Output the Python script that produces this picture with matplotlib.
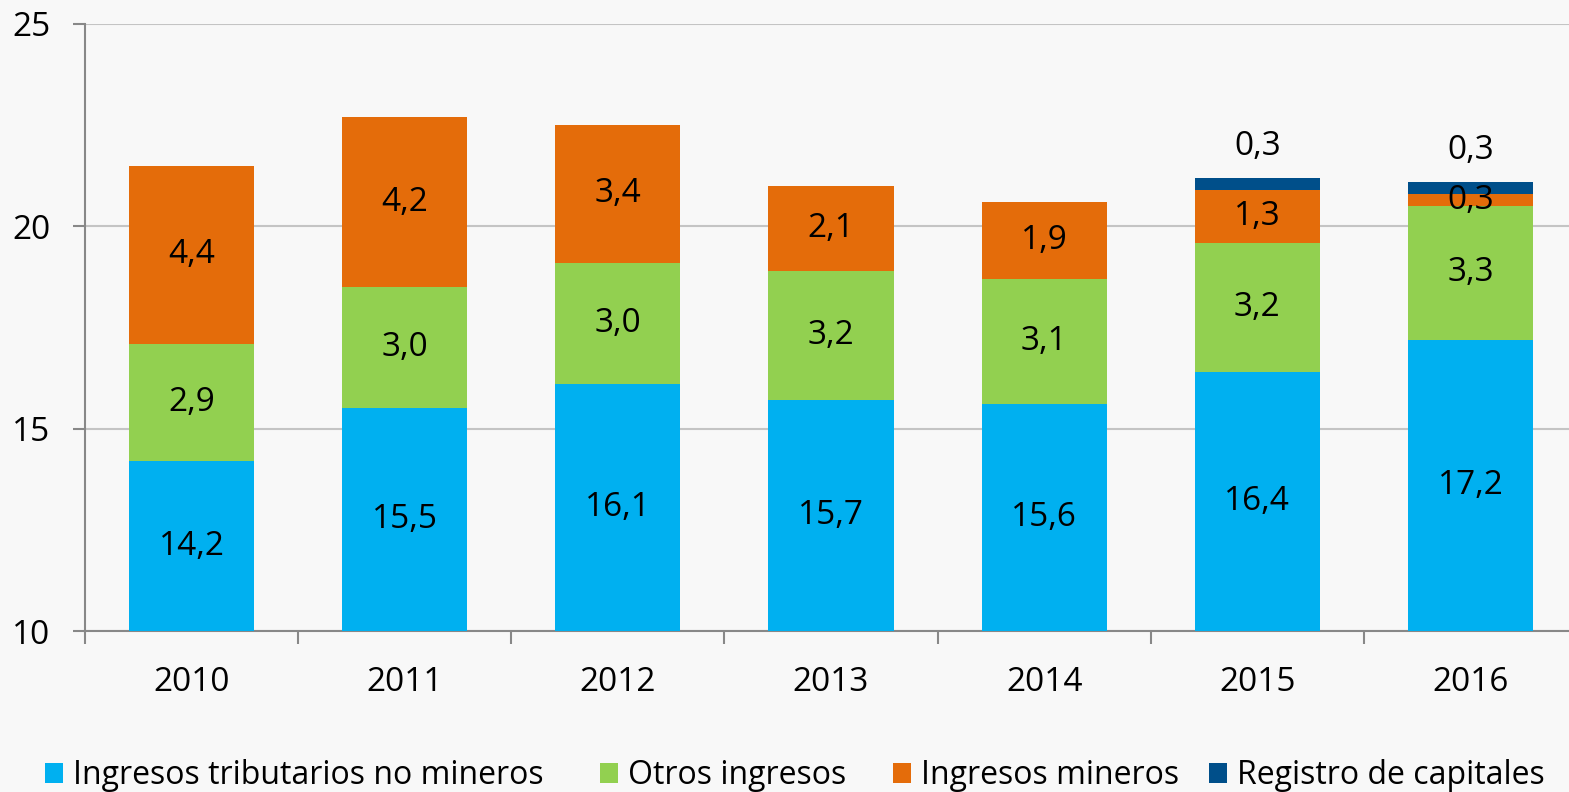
import matplotlib
matplotlib.use("Agg")
import matplotlib.pyplot as plt
from matplotlib.patches import Patch
import numpy as np

plt.rcParams['font.family'] = ['Open Sans', 'DejaVu Sans']

years = ["2010", "2011", "2012", "2013", "2014", "2015", "2016"]
tributarios = [14.2, 15.5, 16.1, 15.7, 15.6, 16.4, 17.2]
otros = [2.9, 3.0, 3.0, 3.2, 3.1, 3.2, 3.3]
mineros = [4.4, 4.2, 3.4, 2.1, 1.9, 1.3, 0.3]
registro = [0, 0, 0, 0, 0, 0.3, 0.3]
series_names = ["Ingresos tributarios no mineros", "Otros ingresos",
                "Ingresos mineros", "Registro de capitales"]
colors = ["#00B0F0", "#92D050", "#E46C0A", "#004F8A"]

ymin, ymax = 10, 25
bg = "#f8f8f8"
fs = 24
lfs = 23

W, H = 1569, 792
fig = plt.figure(figsize=(W / 100, H / 100), dpi=100, facecolor=bg)
ax = fig.add_axes([85 / W, 1 - 631 / H, 1492 / W, 607 / H], facecolor=bg)

x = np.arange(len(years))
width = 0.587
b1 = np.array(tributarios)
b2 = b1 + np.array(otros)
b3 = b2 + np.array(mineros)
b4 = b3 + np.array(registro)

ax.bar(x, tributarios, width, bottom=0, color=colors[0], zorder=3)
ax.bar(x, otros, width, bottom=b1, color=colors[1], zorder=3)
ax.bar(x, mineros, width, bottom=b2, color=colors[2], zorder=3)
ax.bar(x, registro, width, bottom=b3, color=colors[3], zorder=3)

def fmt(v):
    return f"{v:.1f}".replace(".", ",")

for i in range(len(years)):
    ax.text(x[i], (ymin + b1[i]) / 2, fmt(tributarios[i]), ha="center", va="center", fontsize=fs, zorder=5)
    ax.text(x[i], (b1[i] + b2[i]) / 2, fmt(otros[i]), ha="center", va="center", fontsize=fs, zorder=5)
    ax.text(x[i], (b2[i] + b3[i]) / 2, fmt(mineros[i]), ha="center", va="center", fontsize=fs, zorder=5)
    if registro[i] > 0:
        ax.annotate(fmt(registro[i]), (x[i], b4[i]), xytext=(0, 31), textcoords="offset pixels",
                    ha="center", va="center", fontsize=fs, zorder=5)

ax.set_xlim(-0.5, len(years) - 0.5)
ax.set_ylim(ymin, ymax)
ax.set_yticks([10, 15, 20, 25])
ax.yaxis.grid(True, color="#c4c4c4", linewidth=1.5, zorder=0)
ax.set_axisbelow(True)

ax.set_xticks(x)
ax.set_xticklabels(years, fontsize=fs)
ax.set_xticks(np.arange(-0.5, len(years)), minor=True)
ax.tick_params(axis="x", which="major", length=0, pad=25)
ax.tick_params(axis="x", which="minor", length=9, width=1.5, color="#888888", direction="out")
ax.tick_params(axis="y", length=9, width=1.5, color="#888888", direction="out", labelsize=fs, pad=16)

for s in ["top", "right"]:
    ax.spines[s].set_visible(False)
for s in ["left", "bottom"]:
    ax.spines[s].set_color("#888888")
    ax.spines[s].set_linewidth(1.5)

legend_x = [45, 600, 893, 1209]
for name, c, lx in zip(series_names, colors, legend_x):
    leg = fig.legend([Patch(facecolor=c, edgecolor="none")], [name], loc="center left",
                     bbox_to_anchor=(lx / W, 1 - 776 / H), frameon=False, fontsize=lfs,
                     handlelength=0.56, handleheight=0.56, handletextpad=0.32,
                     borderpad=0, borderaxespad=0)

fig.savefig("out.png", dpi=100, facecolor=bg)
